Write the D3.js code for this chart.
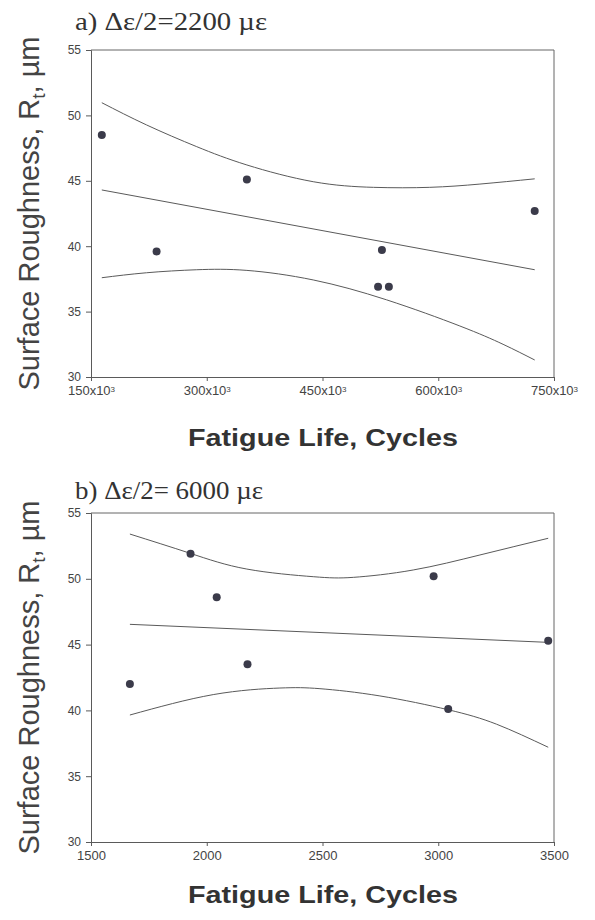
<!DOCTYPE html>
<html>
<head>
<meta charset="utf-8">
<script src="https://cdn.jsdelivr.net/npm/d3@7"></script>
<style>
  body { margin: 0; background: #fff; }
  svg { display: block; }
</style>
</head>
<body>
<svg id="chart"></svg>
<script>
// canvas size
const width = 595;
const height = 920;

const LINE_COLOR = "#5a5a5a";
const DOT_COLOR = "#3b3b4a";
const TEXT_COLOR = "#333";

// panel a) fatigue life in 10^3 cycles, roughness in um
const aLife = [164, 235, 352, 527, 522, 536, 725];
const aRough = [48.5, 39.6, 45.1, 39.7, 36.9, 36.9, 42.7];
const aFitLife = [164, 725];
const aFitRough = [44.3, 38.2];
const aUpperLife = [164, 222, 287, 352, 438, 516, 589, 654, 725];
const aUpperRough = [50.97, 49.27, 47.61, 46.21, 44.93, 44.5, 44.5, 44.75, 45.15];
const aLowerLife = [164, 222, 287, 352, 438, 533, 628, 684, 725];
const aLowerRough = [37.59, 37.97, 38.2, 38.15, 37.42, 35.9, 33.9, 32.5, 31.3];
const aXTicks = [150, 300, 450, 600, 750];

// panel b) fatigue life in cycles
const bLife = [1668, 1930, 2043, 2176, 2980, 3043, 3475];
const bRough = [42.0, 51.9, 48.6, 43.5, 50.2, 40.1, 45.3];
const bFitLife = [1668, 3475];
const bFitRough = [46.54, 45.17];
const bUpperLife = [1668, 1928, 2173, 2460, 2633, 2892, 3180, 3475];
const bUpperRough = [53.4, 51.94, 50.74, 50.16, 50.11, 50.67, 51.81, 53.08];
const bLowerLife = [1668, 2028, 2316, 2489, 2748, 3043, 3252, 3475];
const bLowerRough = [39.65, 41.2, 41.7, 41.65, 41.1, 40.05, 38.95, 37.2];
const bXTicks = [1500, 2000, 2500, 3000, 3500];

const yTicks = [30, 35, 40, 45, 50, 55];

const svg = d3.select("#chart")
  .attr("width", width)
  .attr("height", height)
  .style("background", "#fff");

const zip = (xs, ys) => xs.map((x, i) => [x, ys[i]]);

function drawPanel(p) {
  const x = d3.scaleLinear().domain(p.xDomain).range([91, 554]);
  const y = d3.scaleLinear().domain([30, 55]).range([p.bottom, p.top]);
  const g = svg.append("g");

  // frame: top and right
  g.append("path")
    .attr("d", `M${x.range()[0]},${p.top}H${x.range()[1]}V${p.bottom}`)
    .attr("fill", "none")
    .attr("stroke", "#666")
    .attr("stroke-width", 1);

  // x axis
  const xAxis = g.append("g")
    .attr("transform", `translate(0,${p.bottom})`)
    .call(d3.axisBottom(x).tickValues(p.xTicks).tickSize(4).tickPadding(5));
  xAxis.selectAll("text").text(null).each(function(d) {
    const t = d3.select(this);
    if (p.sci) {
      t.append("tspan").text(d + "x10");
      t.append("tspan").attr("dy", "-0.45em").attr("font-size", "8px").text("3");
    } else {
      t.text(d);
    }
  });
  xAxis.selectAll("text").attr("font-size", "13px");

  // y axis
  const yAxis = g.append("g")
    .attr("transform", `translate(${x.range()[0]},0)`)
    .call(d3.axisLeft(y).tickValues(yTicks).tickSize(5).tickPadding(5));
  yAxis.selectAll("text").attr("font-size", "12px");

  g.selectAll(".domain, .tick line").attr("stroke", LINE_COLOR);
  g.selectAll(".tick text")
    .attr("fill", "#444")
    .attr("font-family", "Liberation Sans, Arial, sans-serif");

  // regression line and confidence band
  const line = d3.line().x(d => x(d[0])).y(d => y(d[1])).curve(d3.curveNatural);
  [p.fit, p.upper, p.lower].forEach(pts => {
    g.append("path")
      .attr("d", line(pts))
      .attr("fill", "none")
      .attr("stroke", LINE_COLOR)
      .attr("stroke-width", 1);
  });

  // data points
  g.selectAll("circle")
    .data(p.points)
    .enter()
    .append("circle")
    .attr("cx", d => x(d[0]))
    .attr("cy", d => y(d[1]))
    .attr("r", 4)
    .attr("fill", DOT_COLOR);

  // panel title
  g.append("text")
    .attr("x", 75)
    .attr("y", p.titleY)
    .attr("font-family", "Liberation Serif, Times New Roman, serif")
    .attr("font-size", "26px")
    .attr("textLength", p.titleLen)
    .attr("lengthAdjust", "spacingAndGlyphs")
    .attr("fill", TEXT_COLOR)
    .text(p.title);

  // y axis title
  const yt = g.append("text")
    .attr("transform", `translate(39,${(p.top + p.bottom) / 2}) rotate(-90)`)
    .attr("text-anchor", "middle")
    .attr("font-family", "Liberation Sans, Arial, sans-serif")
    .attr("font-size", "29px")
    .attr("fill", "#444");
  yt.append("tspan").text("Surface Roughness, R");
  yt.append("tspan").attr("font-size", "19px").attr("dy", "0.3em").text("t");
  yt.append("tspan").attr("dy", "-0.2em").text(", \u00b5m");

  // x axis title
  g.append("text")
    .attr("x", 188)
    .attr("y", p.xTitleY)
    .attr("font-family", "Liberation Sans, Arial, sans-serif")
    .attr("font-weight", "bold")
    .attr("font-size", "24px")
    .attr("textLength", 270)
    .attr("lengthAdjust", "spacingAndGlyphs")
    .attr("fill", TEXT_COLOR)
    .text("Fatigue Life, Cycles");
}

drawPanel({
  title: "a) \u0394\u03b5/2=2200 \u00b5\u03b5",
  titleY: 30,
  titleLen: 192,
  top: 50,
  bottom: 377,
  xTitleY: 446,
  xDomain: [150, 750],
  xTicks: aXTicks,
  sci: true,
  points: zip(aLife, aRough),
  fit: zip(aFitLife, aFitRough),
  upper: zip(aUpperLife, aUpperRough),
  lower: zip(aLowerLife, aLowerRough)
});

drawPanel({
  title: "b) \u0394\u03b5/2= 6000 \u00b5\u03b5",
  titleY: 499,
  titleLen: 188,
  top: 513,
  bottom: 842,
  xTitleY: 903,
  xDomain: [1500, 3500],
  xTicks: bXTicks,
  sci: false,
  points: zip(bLife, bRough),
  fit: zip(bFitLife, bFitRough),
  upper: zip(bUpperLife, bUpperRough),
  lower: zip(bLowerLife, bLowerRough)
});
</script>
</body>
</html>
